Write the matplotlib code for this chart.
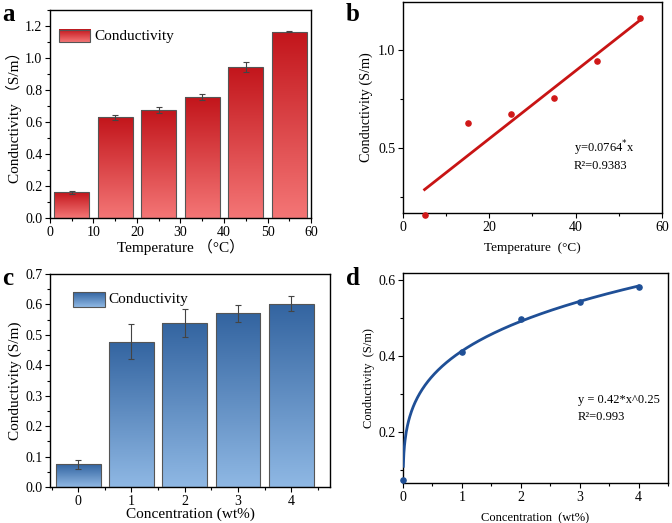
import numpy as np
import matplotlib
matplotlib.use("Agg")
import matplotlib.pyplot as plt
from matplotlib.colors import LinearSegmentedColormap
from matplotlib.ticker import MultipleLocator

plt.rcParams['font.family'] = ['Liberation Serif', 'Noto Sans CJK SC']
plt.rcParams['xtick.direction'] = 'out'
plt.rcParams['ytick.direction'] = 'out'
plt.rcParams['axes.linewidth'] = 1.0

# panel a / b: temperature series
temp = [5, 15, 25, 35, 45, 55]
cond_t = [0.16, 0.63, 0.675, 0.755, 0.945, 1.165]
err_t = [0.01, 0.015, 0.02, 0.02, 0.03, 0.005]

# panel c / d: concentration series
conc = [0, 1, 2, 3, 4]
cond_c = [0.075, 0.478, 0.54, 0.571, 0.603]
err_c = [0.015, 0.057, 0.046, 0.028, 0.025]
conc_d = [0, 1, 2, 3, 4]
cond_d = [0.075, 0.41, 0.498, 0.543, 0.58]

reds = LinearSegmentedColormap.from_list("r", ["#f47676", "#c2151b"])
blues = LinearSegmentedColormap.from_list("b", ["#8fb8e4", "#3364a0"])
grad = np.linspace(0, 1, 256).reshape(-1, 1)


def grad_bars(ax, xs, ys, w, cmap):
    bars = ax.bar(xs, ys, width=w, color='none', edgecolor='#555555', linewidth=0.8, zorder=3)
    for b in bars:
        x0, y0 = b.get_x(), b.get_y()
        im = ax.imshow(grad, cmap=cmap, origin='lower', aspect='auto',
                       extent=[x0, x0 + b.get_width(), y0, y0 + b.get_height()], zorder=2)
        im.set_clip_path(b)
    return bars


def fake_legend(ax, x, y, w, h, cmap, label):
    ax.imshow(grad, cmap=cmap, origin='lower', aspect='auto',
              extent=[x, x + w, y, y + h], transform=ax.transAxes, zorder=5)
    ax.add_patch(plt.Rectangle((x, y), w, h, transform=ax.transAxes, fill=False,
                               edgecolor='#555555', linewidth=0.8, zorder=6))
    ax.text(x + w + 0.015, y + h / 2, label, transform=ax.transAxes,
            va='center', ha='left', fontsize=11)


fig = plt.figure(figsize=(6.72, 5.23), dpi=100)
axa = fig.add_axes([0.0744, 0.5832, 0.3884, 0.3977])
axb = fig.add_axes([0.5997, 0.5927, 0.3854, 0.4035])
axc = fig.add_axes([0.0744, 0.0688, 0.4167, 0.4073])
axd = fig.add_axes([0.5997, 0.0765, 0.3943, 0.4015])

# a
grad_bars(axa, temp, cond_t, 8, reds)
axa.errorbar(temp, cond_t, yerr=err_t, fmt='none', ecolor='#444444', elinewidth=0.8,
             capsize=2, capthick=0.8, zorder=4)
axa.set_xlim(0, 60)
axa.set_ylim(0, 1.3)
axa.xaxis.set_major_locator(MultipleLocator(10))
axa.xaxis.set_minor_locator(MultipleLocator(5))
axa.yaxis.set_major_locator(MultipleLocator(0.2))
axa.yaxis.set_minor_locator(MultipleLocator(0.1))
axa.set_xlabel("Temperature （°C）", fontsize=11, labelpad=0)
axa.set_ylabel("Conductivity （S/m）", fontsize=11, labelpad=2)
fake_legend(axa, 0.035, 0.845, 0.12, 0.058, reds, "Conductivity")

# b
axb.scatter(temp, cond_t, s=14, color='#d01818', zorder=4, clip_on=False)
k, c0 = np.polyfit(temp, cond_t, 1)
xl = np.array([temp[0], temp[-1]])
axb.plot(xl, k * xl + c0, color='#c81414', linewidth=2, zorder=3)
axb.set_xlim(0, 60)
axb.set_ylim(0.17, 1.245)
axb.xaxis.set_major_locator(MultipleLocator(20))
axb.xaxis.set_minor_locator(MultipleLocator(10))
axb.yaxis.set_major_locator(MultipleLocator(0.5))
axb.yaxis.set_minor_locator(MultipleLocator(0.25))
axb.set_xlabel("Temperature  (°C)", fontsize=9.5, labelpad=6)
axb.set_ylabel("Conductivity (S/m)", fontsize=10.2, labelpad=4)
axb.text(0.66, 0.308, "y=0.0764$^{*}$x", transform=axb.transAxes, fontsize=9, va='center')
axb.text(0.66, 0.222, "R²=0.9383", transform=axb.transAxes, fontsize=9, va='center')

# c
grad_bars(axc, conc, cond_c, 0.84, blues)
axc.errorbar(conc, cond_c, yerr=err_c, fmt='none', ecolor='#444444', elinewidth=0.8,
             capsize=2, capthick=0.8, zorder=4)
axc.set_xlim(-0.53, 4.73)
axc.set_ylim(0, 0.7)
axc.xaxis.set_major_locator(MultipleLocator(1))
axc.xaxis.set_minor_locator(MultipleLocator(0.5))
axc.yaxis.set_major_locator(MultipleLocator(0.1))
axc.yaxis.set_minor_locator(MultipleLocator(0.05))
axc.set_xlabel("Concentration (wt%)", fontsize=11, labelpad=0)
axc.set_ylabel("Conductivity (S/m)", fontsize=11, labelpad=2)
fake_legend(axc, 0.083, 0.845, 0.112, 0.07, blues, "Conductivity")

# d
axd.scatter(conc_d, cond_d, s=14, color='#1f4f96', zorder=4, clip_on=False)
pw, la = np.polyfit(np.log(conc_d[1:]), np.log(cond_d[1:]), 1)
xc = np.linspace(0.005, 4, 400)
axd.plot(xc, np.exp(la) * xc ** pw, color='#1f4f96', linewidth=2, zorder=3)
axd.set_xlim(0, 4.5)
axd.set_ylim(0.066, 0.618)
axd.xaxis.set_major_locator(MultipleLocator(1))
axd.xaxis.set_minor_locator(MultipleLocator(0.5))
axd.yaxis.set_major_locator(MultipleLocator(0.2))
axd.yaxis.set_minor_locator(MultipleLocator(0.1))
axd.set_xlabel("Concentration  (wt%)", fontsize=9, labelpad=6)
axd.set_ylabel("Conductivity  (S/m)", fontsize=9, labelpad=2)
axd.text(0.66, 0.395, "y = 0.42*x^0.25", transform=axd.transAxes, fontsize=9, va='center')
axd.text(0.66, 0.314, "R²=0.993", transform=axd.transAxes, fontsize=9, va='center')

for ax in (axa, axb, axc, axd):
    ax.tick_params(which='major', length=3.5, width=0.8, labelsize=10, pad=2)
    ax.tick_params(which='minor', length=2, width=0.8)

fig.text(0.003, 0.995, "a", fontsize=18, fontweight='bold', va='top')
fig.text(0.515, 0.995, "b", fontsize=18, fontweight='bold', va='top')
fig.text(0.003, 0.49, "c", fontsize=18, fontweight='bold', va='top')
fig.text(0.515, 0.49, "d", fontsize=18, fontweight='bold', va='top')

fig.savefig("out.png", dpi=100)
